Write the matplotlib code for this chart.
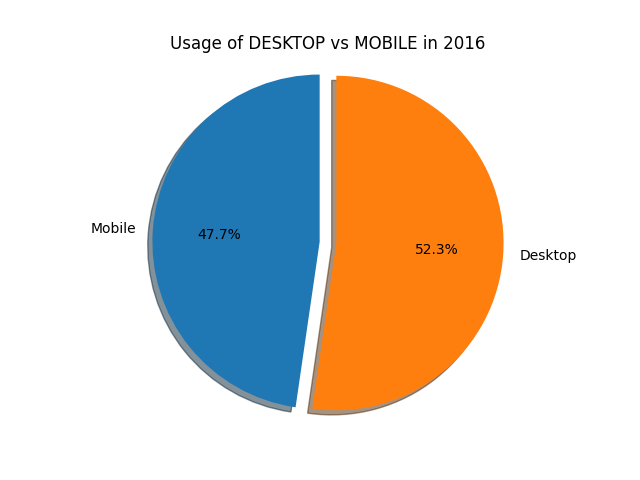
import matplotlib
matplotlib.use('Agg')
import matplotlib.pyplot as plt

# usage share 2016
labels = ['Mobile', 'Desktop']
shares = [47.7, 52.3]
explode = [0.05, 0.05]

fig, ax = plt.subplots(figsize=(6.4, 4.8), dpi=100)
ax.pie(shares, labels=labels, explode=explode, autopct='%1.1f%%',
       shadow=True, startangle=90)
ax.axis('equal')
ax.set_xlim(-1.34, 1.34)
ax.set_ylim(-1.105, 1.105)
ax.set_title('Usage of DESKTOP vs MOBILE in 2016')
plt.savefig('out.png')
